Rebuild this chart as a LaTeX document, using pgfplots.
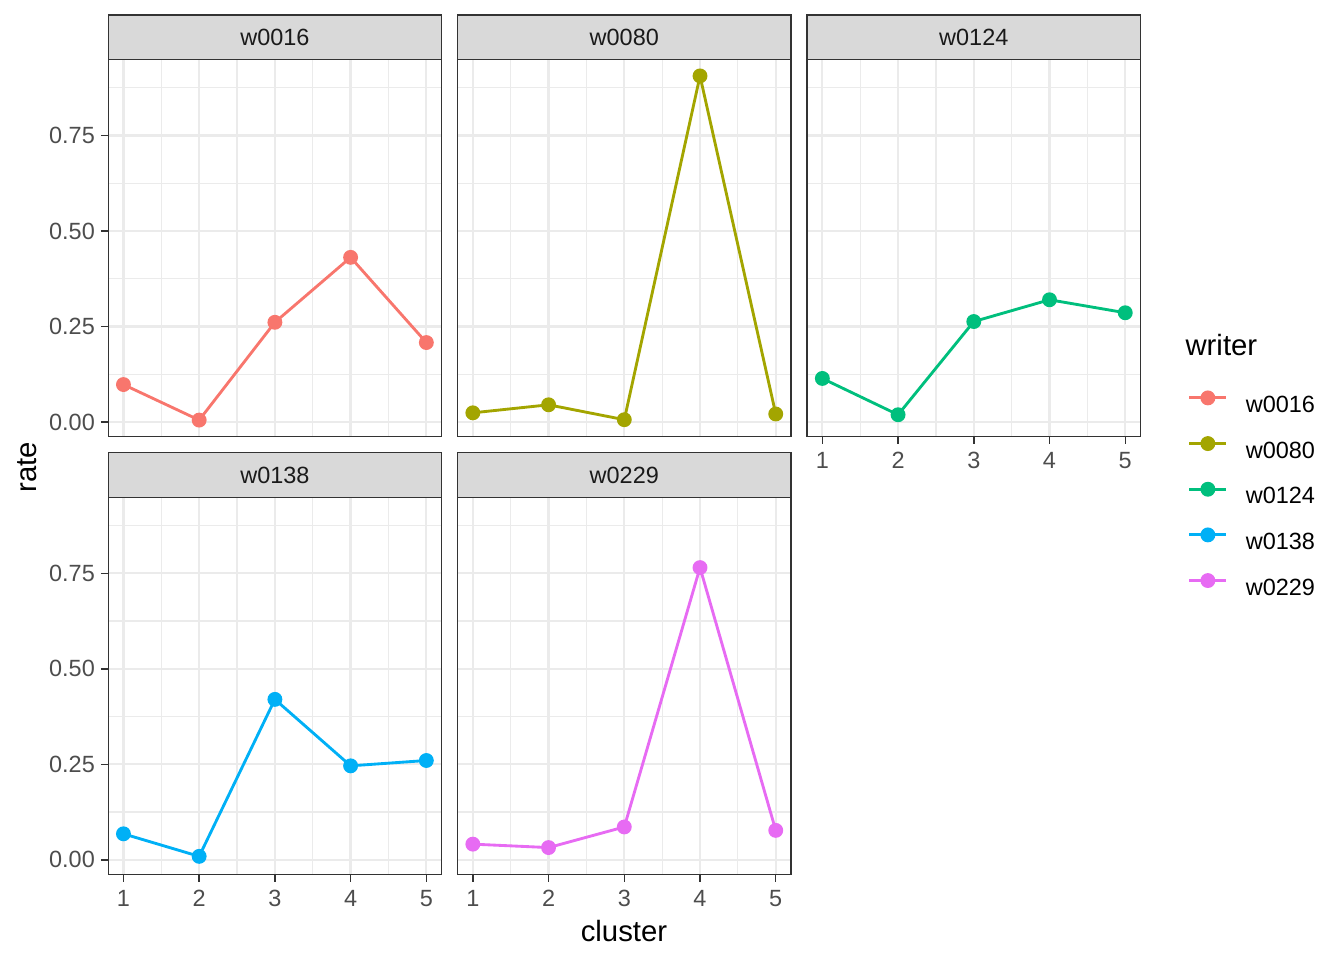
\documentclass[border=0pt]{standalone}
\usepackage{fontspec}
\setmainfont{Liberation Sans}
\usepackage{pgfplots}
\pgfplotsset{compat=1.18}
\definecolor{c1}{HTML}{F8766D}
\definecolor{c2}{HTML}{A3A500}
\definecolor{c3}{HTML}{00BF7D}
\definecolor{c4}{HTML}{00B0F6}
\definecolor{c5}{HTML}{E76BF3}
\definecolor{gridc}{HTML}{EBEBEB}
\definecolor{grey20}{HTML}{333333}
\definecolor{grey30}{HTML}{4D4D4D}
\definecolor{grey10}{HTML}{1A1A1A}
\definecolor{stripc}{HTML}{D9D9D9}
\pgfplotsset{
  panel/.style={
    scale only axis, width=124.95pt, height=141.375pt,
    anchor=north west,
    xmin=0.8, xmax=5.2, ymin=-0.038, ymax=0.949,
    xtick={1,2,3,4,5}, ytick={0,0.25,0.5,0.75},
    minor xtick={1.5,2.5,3.5,4.5}, minor ytick={0.125,0.375,0.625,0.875},
    grid=both,
    major grid style={draw=gridc, line width=0.85pt},
    minor grid style={draw=gridc, line width=0.45pt},
    axis line style={draw=grey20, line width=0.55pt},
    tick align=outside, xtick pos=bottom, ytick pos=left,
    major tick length=2.75pt, minor tick length=0pt,
    tick style={draw=grey20, line width=0.55pt},
    ticklabel style={font=\fontsize{8.8}{10}\selectfont, text=grey30, inner sep=0pt},
    xticklabel style={yshift=-2.9pt},
    yticklabel style={xshift=-2.1pt},
    yticklabel={\pgfmathprintnumber[fixed, fixed zerofill, precision=2]{\tick}},
    /pgf/number format/assume math mode=true,
    clip=false,
  },
  nox/.style={xticklabels={}, major x tick style={draw=none}},
  noy/.style={yticklabels={}, major y tick style={draw=none}},
  ser/.style={color=#1, line width=1.07pt, mark=*, mark size=2.25pt, mark options={solid, fill=#1, draw=none}},
}
\begin{document}
\begin{tikzpicture}
\useasboundingbox (0,0) rectangle (504pt,-360pt);
% row 1
\begin{axis}[panel, nox, at={(40.6125pt,-22.3125pt)}]
\addplot[ser=c1] coordinates {(1,0.098) (2,0.005) (3,0.261) (4,0.431) (5,0.208)};
\end{axis}
\begin{axis}[panel, nox, noy, at={(171.6375pt,-22.3125pt)}]
\addplot[ser=c2] coordinates {(1,0.024) (2,0.045) (3,0.006) (4,0.906) (5,0.021)};
\end{axis}
\begin{axis}[panel, noy, at={(302.7pt,-22.3125pt)}]
\addplot[ser=c3] coordinates {(1,0.114) (2,0.019) (3,0.263) (4,0.320) (5,0.286)};
\end{axis}
% row 2
\begin{axis}[panel, at={(40.6125pt,-186.4875pt)}]
\addplot[ser=c4] coordinates {(1,0.068) (2,0.009) (3,0.420) (4,0.246) (5,0.260)};
\end{axis}
\begin{axis}[panel, noy, at={(171.6375pt,-186.4875pt)},
  legend cell align=left,
  legend style={at={(2.190,1.281)}, anchor=north west, draw=none, fill=none,
    inner sep=0pt, row sep=7.9pt, column sep=6.75pt,
    nodes={inner sep=0pt, font=\fontsize{8.8}{10}\selectfont, text=black}},
  legend image code/.code={\draw[mark repeat=2, mark phase=2, #1] plot coordinates {(0pt,3.15pt) (6.95pt,3.15pt) (13.9pt,3.15pt)};}]
\addlegendimage{ser=c1}\addlegendentry{w0016}
\addlegendimage{ser=c2}\addlegendentry{w0080}
\addlegendimage{ser=c3}\addlegendentry{w0124}
\addlegendimage{ser=c4}\addlegendentry{w0138}
\addplot[ser=c5] coordinates {(1,0.041) (2,0.032) (3,0.086) (4,0.765) (5,0.077)};
\addlegendentry{w0229}
\end{axis}
% strips
\begin{scope}[x=0.375pt, y=-0.375pt]
\foreach \xa/\xb/\ya/\yb/\lab in {108.3/441.6/15/59.5/w0016, 457.7/790.9/15/59.5/w0080, 807.2/1140.4/15/59.5/w0124, 108.3/441.6/452.7/497.3/w0138, 457.7/790.9/452.7/497.3/w0229}{
  \draw[fill=stripc, draw=grey20, line width=0.55pt] (\xa,\ya) rectangle (\xb,\yb);
  \node[inner sep=0pt, font=\fontsize{8.8}{10}\selectfont, text=grey10] at ({(\xa+\xb)/2},{(\ya+\yb)/2}) {\lab};
}
\node[anchor=base, inner sep=0pt, font=\fontsize{11}{13}\selectfont] at (624,941) {cluster};
\node[anchor=base, rotate=90, inner sep=0pt, font=\fontsize{11}{13}\selectfont] at (36,467) {rate};
\node[anchor=base west, inner sep=0pt, font=\fontsize{11}{13}\selectfont] at (1185,355) {writer};
\end{scope}
\end{tikzpicture}
\end{document}
